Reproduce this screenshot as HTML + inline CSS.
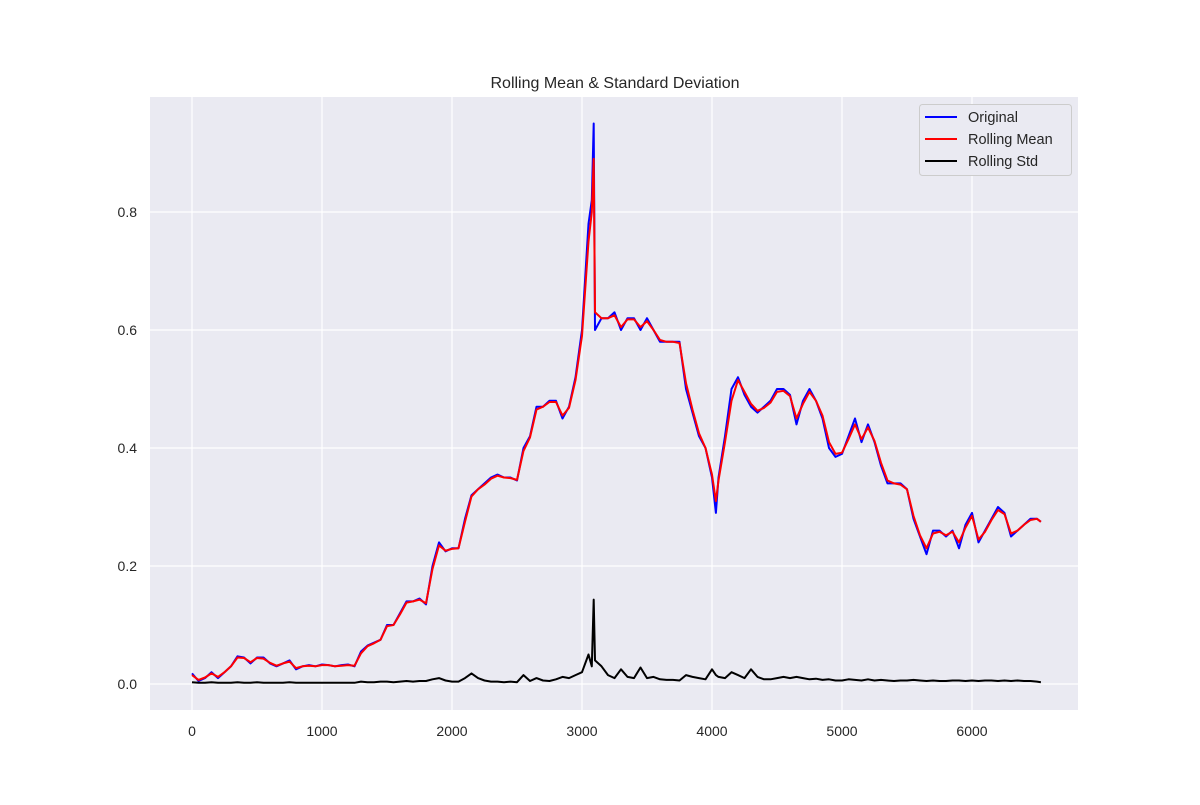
<!DOCTYPE html>
<html><head><meta charset="utf-8"><style>
body{margin:0;background:#fff;}
svg text{font-family:"Liberation Sans","DejaVu Sans",sans-serif;fill:#262626;}
</style></head><body>
<svg id="chart" width="1200" height="800">
<rect x="150" y="97" width="928" height="613" fill="#eaeaf2"/>
<g id="grid"></g>
<g id="ticks"></g>
<g id="series"></g>
<text x="615" y="88" text-anchor="middle" font-size="16">Rolling Mean &amp; Standard Deviation</text>
<g>
<rect x="919.5" y="104.5" width="152" height="71" rx="3" fill="#eaeaf2" stroke="#cccccc"/>
<line x1="925" y1="117" x2="957" y2="117" stroke="#0000ff" stroke-width="2"/>
<text x="968" y="122" font-size="14.5">Original</text>
<line x1="925" y1="139" x2="957" y2="139" stroke="#ff0000" stroke-width="2"/>
<text x="968" y="144" font-size="14.5">Rolling Mean</text>
<line x1="925" y1="161" x2="957" y2="161" stroke="#000" stroke-width="2"/>
<text x="968" y="166" font-size="14.5">Rolling Std</text>
</g>
</svg>
<script>
const xs=[0,50,100,150,200,250,300,350,400,450,500,550,600,650,700,750,800,850,900,950,1000,1050,1100,1150,1200,1250,1300,1350,1400,1450,1500,1550,1600,1650,1700,1750,1800,1850,1900,1950,2000,2050,2100,2150,2200,2250,2300,2350,2400,2450,2500,2550,2600,2650,2700,2750,2800,2850,2900,2950,3000,3050,3075,3090,3100,3150,3200,3250,3300,3350,3400,3450,3500,3550,3600,3650,3700,3750,3800,3850,3900,3950,4000,4030,4050,4100,4150,4200,4250,4300,4350,4400,4450,4500,4550,4600,4650,4700,4750,4800,4850,4900,4950,5000,5050,5100,5150,5200,5250,5300,5350,5400,5450,5500,5550,5600,5650,5700,5750,5800,5850,5900,5950,6000,6050,6100,6150,6200,6250,6300,6350,6400,6450,6500,6530];
const original=[0.018,0.005,0.01,0.02,0.01,0.02,0.03,0.047,0.045,0.035,0.045,0.045,0.035,0.03,0.035,0.04,0.025,0.03,0.032,0.03,0.033,0.032,0.03,0.032,0.033,0.03,0.055,0.065,0.07,0.075,0.1,0.1,0.12,0.14,0.14,0.145,0.135,0.2,0.24,0.225,0.23,0.23,0.28,0.32,0.33,0.34,0.35,0.355,0.35,0.35,0.345,0.4,0.42,0.47,0.47,0.48,0.48,0.45,0.47,0.52,0.6,0.78,0.82,0.95,0.6,0.62,0.62,0.63,0.6,0.62,0.62,0.6,0.62,0.6,0.58,0.58,0.58,0.58,0.5,0.46,0.42,0.4,0.35,0.29,0.35,0.42,0.5,0.52,0.49,0.47,0.46,0.47,0.48,0.5,0.5,0.49,0.44,0.48,0.5,0.48,0.45,0.4,0.385,0.39,0.42,0.45,0.41,0.44,0.41,0.37,0.34,0.34,0.34,0.33,0.28,0.25,0.22,0.26,0.26,0.25,0.26,0.23,0.27,0.29,0.24,0.26,0.28,0.3,0.29,0.25,0.26,0.27,0.28,0.28,0.275];
const rollingMean=[0.015,0.007,0.011,0.018,0.012,0.02,0.03,0.045,0.044,0.037,0.044,0.043,0.036,0.031,0.035,0.038,0.027,0.03,0.031,0.03,0.032,0.032,0.03,0.031,0.032,0.031,0.052,0.064,0.069,0.075,0.098,0.1,0.118,0.138,0.14,0.143,0.137,0.195,0.235,0.226,0.229,0.23,0.275,0.318,0.33,0.338,0.348,0.353,0.35,0.349,0.346,0.395,0.418,0.465,0.47,0.478,0.478,0.455,0.468,0.515,0.59,0.75,0.8,0.89,0.63,0.62,0.62,0.625,0.605,0.618,0.618,0.605,0.615,0.6,0.583,0.58,0.58,0.578,0.51,0.465,0.425,0.4,0.355,0.31,0.345,0.41,0.48,0.515,0.495,0.475,0.463,0.468,0.477,0.495,0.497,0.488,0.45,0.475,0.495,0.48,0.455,0.41,0.39,0.392,0.415,0.44,0.415,0.435,0.412,0.375,0.345,0.34,0.338,0.33,0.285,0.252,0.23,0.255,0.258,0.252,0.258,0.24,0.265,0.285,0.245,0.258,0.278,0.295,0.288,0.255,0.26,0.27,0.278,0.28,0.275];
const rollingStd=[0.003,0.002,0.002,0.003,0.002,0.002,0.002,0.003,0.002,0.002,0.003,0.002,0.002,0.002,0.002,0.003,0.002,0.002,0.002,0.002,0.002,0.002,0.002,0.002,0.002,0.002,0.004,0.003,0.003,0.004,0.004,0.003,0.004,0.005,0.004,0.005,0.005,0.008,0.01,0.006,0.004,0.004,0.01,0.018,0.01,0.006,0.004,0.004,0.003,0.004,0.003,0.015,0.005,0.01,0.006,0.005,0.008,0.012,0.01,0.015,0.02,0.05,0.03,0.143,0.04,0.03,0.015,0.01,0.025,0.012,0.01,0.028,0.01,0.012,0.008,0.007,0.007,0.006,0.015,0.012,0.01,0.008,0.025,0.015,0.012,0.01,0.02,0.015,0.01,0.025,0.012,0.008,0.008,0.01,0.012,0.01,0.012,0.01,0.008,0.009,0.007,0.008,0.006,0.006,0.008,0.007,0.006,0.008,0.006,0.007,0.006,0.005,0.006,0.006,0.007,0.006,0.005,0.006,0.005,0.005,0.006,0.006,0.005,0.006,0.005,0.006,0.006,0.005,0.006,0.005,0.006,0.005,0.005,0.004,0.003];
const xTicks=[0,1000,2000,3000,4000,5000,6000];
const yTicks=[0.0,0.2,0.4,0.6,0.8];
const X=v=>192+v*0.13, Y=v=>684-v*590;
const NS="http://www.w3.org/2000/svg";
function mk(t,a,p){const e=document.createElementNS(NS,t);for(const k in a)e.setAttribute(k,a[k]);p.appendChild(e);return e;}
const grid=document.getElementById('grid'),ticks=document.getElementById('ticks'),series=document.getElementById('series');
xTicks.forEach(t=>{
 const l=mk('line',{x1:X(t),x2:X(t),y1:97,y2:710,stroke:'#fff','stroke-width':1.2},grid);
 
 
 const tx=mk('text',{x:X(t),y:736,'text-anchor':'middle','font-size':14},ticks);tx.textContent=t;
 
 
});
yTicks.forEach(t=>{
 const l=mk('line',{x1:150,x2:1078,y1:Y(t),y2:Y(t),stroke:'#fff','stroke-width':1.2},grid);
 
 
 const tx=mk('text',{x:137,y:Y(t)+5,'text-anchor':'end','font-size':14},ticks);tx.textContent=t.toFixed(1);
 
 
});
function line(vals,color,name){
 const d=vals.map((v,i)=>(i?'L':'M')+X(xs[i]).toFixed(1)+','+Y(v).toFixed(1)).join('');
 const p=mk('path',{d:d,fill:'none',stroke:color,'stroke-width':2,'stroke-linejoin':'round'},series);
 
 
}
line(original,'#0000ff','original-line');
line(rollingMean,'#ff0000','rolling-mean-line');
line(rollingStd,'#000000','rolling-std-line');
</script>
</body></html>
